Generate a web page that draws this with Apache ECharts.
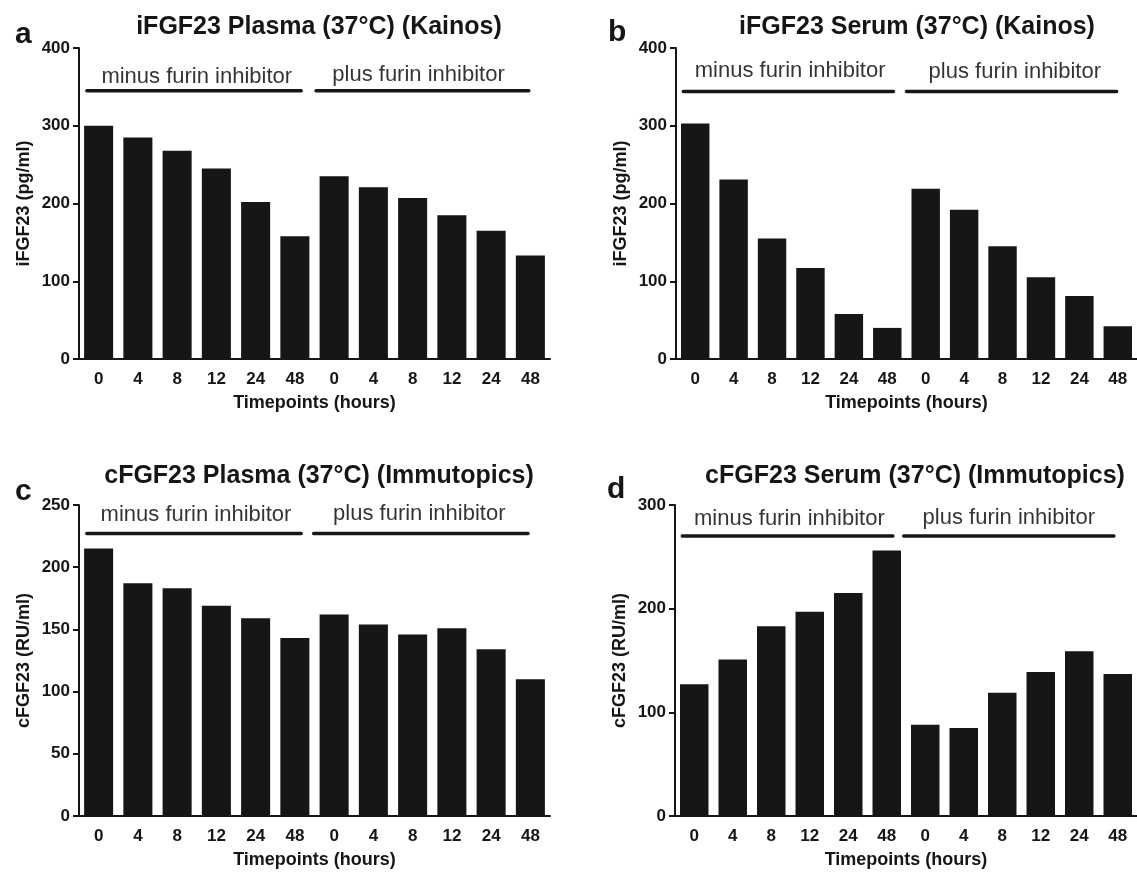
<!DOCTYPE html>
<html>
<head>
<meta charset="utf-8">
<title>FGF23 stability at 37°C</title>
<script src="https://cdn.jsdelivr.net/npm/echarts@6/dist/echarts.min.js"></script>
<style>
  html, body { margin: 0; padding: 0; background: #fff; }
  #chart { width: 1137px; height: 874px; }
</style>
</head>
<body>
<div id="chart"></div>
<script>
// x categories (hours), same for every panel
var timepoints = ['0', '4', '8', '12', '24', '48', '0', '4', '8', '12', '24', '48'];

// bar heights
var iPlasma = [300, 285, 268, 245, 202, 158, 235, 221, 207, 185, 165, 133];
var iSerum  = [303, 231, 155, 117, 58, 40, 219, 192, 145, 105, 81, 42];
var cPlasma = [215, 187, 183, 169, 159, 143, 162, 154, 146, 151, 134, 110];
var cSerum  = [127, 151, 183, 197, 215, 256, 88, 85, 119, 139, 159, 137];

// y axis ticks
var ticksI  = [0, 100, 200, 300, 400];
var ticksCP = [0, 50, 100, 150, 200, 250];
var ticksCS = [0, 100, 200, 300];

// group brackets over the bars, in category units + value level
var groupNames = ['minus furin inhibitor', 'plus furin inhibitor'];
var spansA = [[-0.30, 5.16], [5.54, 10.96]];
var spansB = [[-0.31, 5.16], [5.50, 10.97]];
var spansC = [[-0.30, 5.16], [5.48, 10.94]];
var spansD = [[-0.31, 5.16], [5.44, 10.90]];
var bracketLevel = [345, 344, 227, 270];
var groupLabelX = [[2.50, 8.15], [2.47, 8.32], [2.48, 8.17], [2.47, 8.17]];
var groupLabelY = [[363, 365], [370, 369], [242, 243], [287, 288]];

var FONT = "'Liberation Sans', Arial, Helvetica, sans-serif";
var INK = '#161616';

var panels = [
  { letter: 'a', title: 'iFGF23 Plasma (37°C) (Kainos)', yName: 'iFGF23 (pg/ml)', data: iPlasma, ticks: ticksI, spans: spansA },
  { letter: 'b', title: 'iFGF23 Serum (37°C) (Kainos)', yName: 'iFGF23 (pg/ml)', data: iSerum, ticks: ticksI, spans: spansB },
  { letter: 'c', title: 'cFGF23 Plasma (37°C) (Immutopics)', yName: 'cFGF23 (RU/ml)', data: cPlasma, ticks: ticksCP, spans: spansC },
  { letter: 'd', title: 'cFGF23 Serum (37°C) (Immutopics)', yName: 'cFGF23 (RU/ml)', data: cSerum, ticks: ticksCS, spans: spansD }
];

var grids = [
  { left: 79, top: 48, width: 471, height: 311 },
  { left: 676, top: 48, width: 468, height: 311 },
  { left: 79, top: 505, width: 471, height: 311 },
  { left: 675, top: 505, width: 468, height: 311 }
];
var titlePos = [[314, 10], [912, 10], [314, 459], [910, 459]];
var letterPos = [[15, 20], [608, 18], [15, 477], [607, 475]];

var chart = echarts.init(document.getElementById('chart'));

var xAxes = [], yAxes = [], series = [], titles = [], graphics = [];

panels.forEach(function (p, i) {
  var t = p.ticks;
  xAxes.push({
    type: 'category',
    gridIndex: i,
    data: timepoints,
    name: 'Timepoints (hours)',
    nameLocation: 'middle',
    nameGap: 35,
    nameTextStyle: { fontFamily: FONT, fontWeight: 'bold', fontSize: 18, color: INK, verticalAlign: 'top' },
    axisLine: { onZero: false, lineStyle: { color: INK, width: 2 } },
    axisTick: { alignWithLabel: true, length: 6, lineStyle: { color: INK, width: 2 } },
    axisLabel: { fontFamily: FONT, fontWeight: 'bold', fontSize: 17, color: INK, margin: 12 }
  });
  yAxes.push({
    type: 'value',
    gridIndex: i,
    min: t[0],
    max: t[t.length - 1],
    interval: t[1] - t[0],
    name: p.yName,
    nameLocation: 'middle',
    nameGap: 46,
    nameTextStyle: { fontFamily: FONT, fontWeight: 'bold', fontSize: 18, color: INK },
    axisLine: { show: true, onZero: false, lineStyle: { color: INK, width: 2 } },
    axisTick: { show: true, length: 6, lineStyle: { color: INK, width: 2 } },
    axisLabel: { fontFamily: FONT, fontWeight: 'bold', fontSize: 17, color: INK, margin: 9 },
    splitLine: { show: false }
  });

  series.push({
    type: 'bar',
    xAxisIndex: i,
    yAxisIndex: i,
    data: p.data,
    barCategoryGap: '26%',
    itemStyle: { color: INK }
  });

  // brackets and their captions live on a hidden value x axis (index 4+i)
  p.spans.forEach(function (s) {
    series.push({
      type: 'line',
      xAxisIndex: 4 + i,
      yAxisIndex: i,
      data: [[s[0], bracketLevel[i]], [s[1], bracketLevel[i]]],
      symbol: 'none',
      silent: true,
      z: 5,
      lineStyle: { color: INK, width: 3.5, cap: 'round' }
    });
  });
  series.push({
    type: 'scatter',
    xAxisIndex: 4 + i,
    yAxisIndex: i,
    symbolSize: 1,
    silent: true,
    itemStyle: { color: 'rgba(0,0,0,0)' },
    label: {
      show: true,
      position: 'inside',
      formatter: '{b}',
      fontFamily: FONT,
      fontSize: 22,
      color: '#000'
    },
    data: groupNames.map(function (n, k) {
      return { name: n, value: [groupLabelX[i][k], groupLabelY[i][k]] };
    })
  });

  titles.push({
    text: p.title,
    left: titlePos[i][0],
    top: titlePos[i][1],
    textAlign: 'center',
    textStyle: { fontFamily: FONT, fontWeight: 'bold', fontSize: 25, color: INK }
  });
  graphics.push({
    type: 'text',
    left: letterPos[i][0],
    top: letterPos[i][1],
    style: { text: p.letter, font: 'bold 30px ' + FONT, fill: INK }
  });
});

panels.forEach(function (p, i) {
  xAxes.push({ type: 'value', gridIndex: i, min: -0.5, max: 11.5, show: false });
});

chart.setOption({
  animation: false,
  backgroundColor: '#ffffff',
  title: titles,
  graphic: graphics,
  grid: grids,
  xAxis: xAxes,
  yAxis: yAxes,
  series: series
});
</script>
</body>
</html>
